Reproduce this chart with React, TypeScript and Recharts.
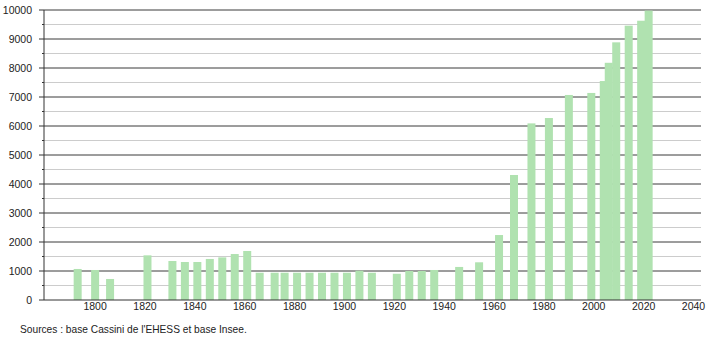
import { BarChart, Bar, XAxis, YAxis, CartesianGrid } from 'recharts'

const years = [
  1793, 1800, 1806, 1821, 1831, 1836, 1841, 1846, 1851, 1856, 1861, 1866, 1872, 1876,
  1881, 1886, 1891, 1896, 1901, 1906, 1911, 1921, 1926, 1931, 1936, 1946, 1954, 1962,
  1968, 1975, 1982, 1990, 1999, 2004, 2006, 2009, 2014, 2019, 2022,
]
const population = [
  1070, 1035, 725, 1540, 1345, 1310, 1310, 1415, 1470, 1585, 1690, 940, 940, 940,
  940, 940, 940, 940, 940, 1010, 940, 905, 1000, 1000, 1035, 1140, 1300, 2240,
  4310, 6090, 6275, 7070, 7140, 7550, 8180, 8885, 9460, 9630, 9980,
]
const xTicks = [1800, 1820, 1840, 1860, 1880, 1900, 1920, 1940, 1960, 1980, 2000, 2020, 2040]
const yTicks = [
  0, 500, 1000, 1500, 2000, 2500, 3000, 3500, 4000, 4500, 5000, 5500, 6000, 6500, 7000,
  7500, 8000, 8500, 9000, 9500, 10000,
]
const majorLines = [1000, 2000, 3000, 4000, 5000, 6000, 7000, 8000, 9000, 10000]
const minorLines = [500, 1500, 2500, 3500, 4500, 5500, 6500, 7500, 8500, 9500]

const data = years.map((year, i) => ({ year, pop: population[i] }))

const font = '"Liberation Sans", Arial, sans-serif'
const BAR_W = 8

function YTick(props: any) {
  const { x, y, payload } = props
  const v = payload.value as number
  const major = v % 1000 === 0
  const axisX = x + 8
  return (
    <g>
      <line x1={axisX - (major ? 5 : 2)} x2={axisX} y1={y} y2={y} stroke="#333" />
      {major && (
        <text x={x - 4} y={y} dy={4} textAnchor="end" fontSize={10.5} fill="#222" fontFamily={font}>
          {v}
        </text>
      )}
    </g>
  )
}

// fixed-width bar centred on the year, bars overlap where censuses are close
function WideBar(props: any) {
  const { x, y, width, height, fill } = props
  const cx = x + width / 2
  return <rect x={cx - BAR_W / 2} y={y} width={BAR_W} height={height} fill={fill} />
}

export default function App() {
  return (
    <div style={{ position: 'absolute', left: 0, top: 0, width: 710, height: 340, background: '#fff' }}>
      <BarChart
        width={710}
        height={340}
        data={data}
        margin={{ top: 10, right: 9, bottom: 20, left: 0 }}
      >
        <CartesianGrid vertical={false} stroke="#cccccc" horizontalValues={minorLines} />
        <CartesianGrid vertical={false} stroke="#3a3a3a" horizontalValues={majorLines} />
        <XAxis
          dataKey="year"
          type="number"
          domain={[1779.5, 2043]}
          ticks={xTicks}
          allowDataOverflow
          tickSize={0}
          tickMargin={3}
          height={20}
          stroke="#333"
          tick={{ fontSize: 10.5, fill: '#222', fontFamily: font }}
        />
        <YAxis
          type="number"
          domain={[0, 10000]}
          ticks={yTicks}
          interval={0}
          width={44}
          tickSize={0}
          tickMargin={8}
          tickLine={false}
          stroke="#333"
          tick={<YTick />}
        />
        <Bar dataKey="pop" fill="#b0e2b0" shape={<WideBar />} isAnimationActive={false} />
      </BarChart>
      <div
        style={{
          position: 'absolute',
          left: 20,
          top: 324,
          fontSize: 10.2,
          fontFamily: font,
          color: '#222',
          whiteSpace: 'nowrap',
        }}
      >
        Sources : base Cassini de l'EHESS et base Insee.
      </div>
    </div>
  )
}
